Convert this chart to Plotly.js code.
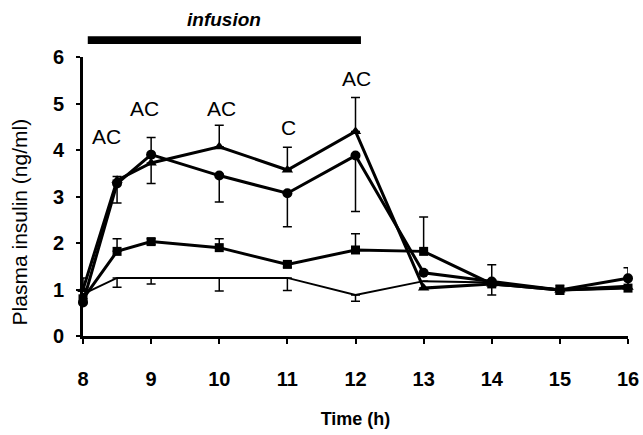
<!DOCTYPE html>
<html>
<head>
<meta charset="utf-8">
<script src="https://cdn.plot.ly/plotly-3.0.1.min.js"></script>
<style>html,body{margin:0;padding:0;background:#fff;}#chart{width:643px;height:435px;}</style>
</head>
<body>
<div id="chart"></div>
<script>
// time points (h)
const times = [8, 8.5, 9, 10, 11, 12, 13, 14, 15, 16];
const xTicks = [8, 9, 10, 11, 12, 13, 14, 15, 16];

// series: triangles
const triValues = [1.0, 3.35, 3.72, 4.07, 3.57, 4.40, 1.03, 1.12, 0.99, 1.05];
const triErrPlus = [0.25, 0.08, 0, 0.46, 0.49, 0.73, 0, 0, 0, 0];
const triErrMinus = [0, 0, 0.44, 0, 0, 0, 0, 0, 0, 0];

// series: circles
const circValues = [0.72, 3.28, 3.90, 3.45, 3.07, 3.88, 1.36, 1.17, 0.99, 1.24];
const circErrPlus = [0, 0, 0.37, 0, 0, 0, 0, 0.36, 0.1, 0.23];
const circErrMinus = [0, 0.42, 0, 0.57, 0.72, 1.2, 0, 0, 0, 0];

// series: squares
const sqValues = [0.8, 1.82, 2.03, 1.90, 1.54, 1.85, 1.82, 1.12, 0.99, 1.03];
const sqErrPlus = [0, 0.27, 0.06, 0.19, 0.06, 0.35, 0.74, 0, 0, 0];
const sqErrMinus = [0, 0, 0.06, 0, 0.06, 0, 0, 0, 0, 0];

// series: plain line
const plainValues = [0.9, 1.25, 1.25, 1.25, 1.25, 0.88, 1.18, 1.15, 1.0, 1.08];
const plainErrMinus = [0, 0.2, 0.13, 0.28, 0.27, 0.13, 0, 0.27, 0.1, 0];
const plainErrPlus = [0, 0, 0, 0, 0, 0, 0, 0, 0, 0];

// significance labels
const sigX = [8.35, 8.91, 10.04, 11.01, 12.02];
const sigY = [4.28, 4.89, 4.89, 4.48, 5.53];
const sigText = ["AC", "AC", "AC", "C", "AC"];

// infusion period
const infusionPeriod = [8.07, 12.08];
const infusionLabel = "infusion";

const FONT = "Arial, 'Liberation Sans', Helvetica, sans-serif";

function errObj(plus, minus, thick) {
  return {type: 'data', symmetric: false, array: plus, arrayminus: minus,
          color: '#000', thickness: thick, width: 4.5};
}

const traces = [
  {x: times, y: plainValues, mode: 'lines', line: {color: '#000', width: 2},
   error_y: errObj(plainErrPlus, plainErrMinus, 1.5), cliponaxis: false, name: 'D'},
  {x: times, y: sqValues, mode: 'lines+markers', line: {color: '#000', width: 3},
   marker: {symbol: 'square', size: 9, color: '#000'},
   error_y: errObj(sqErrPlus, sqErrMinus, 1.5), cliponaxis: false, name: 'B'},
  {x: times, y: circValues, mode: 'lines+markers', line: {color: '#000', width: 3},
   marker: {symbol: 'circle', size: 10, color: '#000'},
   error_y: errObj(circErrPlus, circErrMinus, 1.5), cliponaxis: false, name: 'C'},
  {x: times, y: triValues, mode: 'lines+markers', line: {color: '#000', width: 3},
   marker: {symbol: 'triangle-up', size: 10, color: '#000'},
   error_y: errObj(triErrPlus, triErrMinus, 1.5), cliponaxis: false, name: 'A'}
];

const annotations = sigText.map((t, i) => ({
  x: sigX[i], y: sigY[i], xref: 'x', yref: 'y', text: t, showarrow: false,
  font: {family: FONT, size: 21, color: '#000'}
}));
annotations.push({
  x: (infusionPeriod[0] + infusionPeriod[1]) / 2, y: 1.136, xref: 'x', yref: 'paper',
  text: '<b><i>' + infusionLabel + '</i></b>', showarrow: false, yanchor: 'middle',
  font: {family: FONT, size: 19, color: '#000'}
});
annotations.push({
  x: -0.116, y: 0.41, xref: 'paper', yref: 'paper', text: 'Plasma insulin (ng/ml)',
  textangle: -90, showarrow: false, xanchor: 'center', yanchor: 'middle',
  font: {family: FONT, size: 21, color: '#000'}
});

const layout = {
  width: 643, height: 435,
  margin: {l: 83, r: 15, t: 57, b: 99},
  paper_bgcolor: '#fff', plot_bgcolor: '#fff',
  showlegend: false,
  font: {family: FONT, color: '#000'},
  xaxis: {
    range: [8, 16], tickvals: xTicks, ticktext: xTicks.map(String),
    ticks: 'outside', ticklen: 5, tickwidth: 2, tickcolor: '#000',
    showline: true, linewidth: 3, linecolor: '#000', showgrid: false, zeroline: false,
    ticklabelstandoff: 18,
    tickfont: {family: FONT, size: 20, weight: 'bold', color: '#000'},
    title: {text: 'Time (h)', standoff: 24, font: {family: FONT, size: 18, weight: 'bold', color: '#000'}}
  },
  yaxis: {
    range: [0, 6], dtick: 1, tick0: 0,
    ticks: 'outside', ticklen: 4, tickwidth: 2, tickcolor: '#000',
    showline: true, linewidth: 3, linecolor: '#000', showgrid: false, zeroline: false,
    ticklabelstandoff: 8,
    tickfont: {family: FONT, size: 20, weight: 'bold', color: '#000'}
  },
  shapes: [{
    type: 'rect', xref: 'x', yref: 'paper',
    x0: infusionPeriod[0], x1: infusionPeriod[1], y0: 1.047, y1: 1.074,
    fillcolor: '#000', line: {width: 0}
  }],
  annotations: annotations
};

Plotly.newPlot('chart', traces, layout, {displayModeBar: false, staticPlot: true});
</script>
</body>
</html>
